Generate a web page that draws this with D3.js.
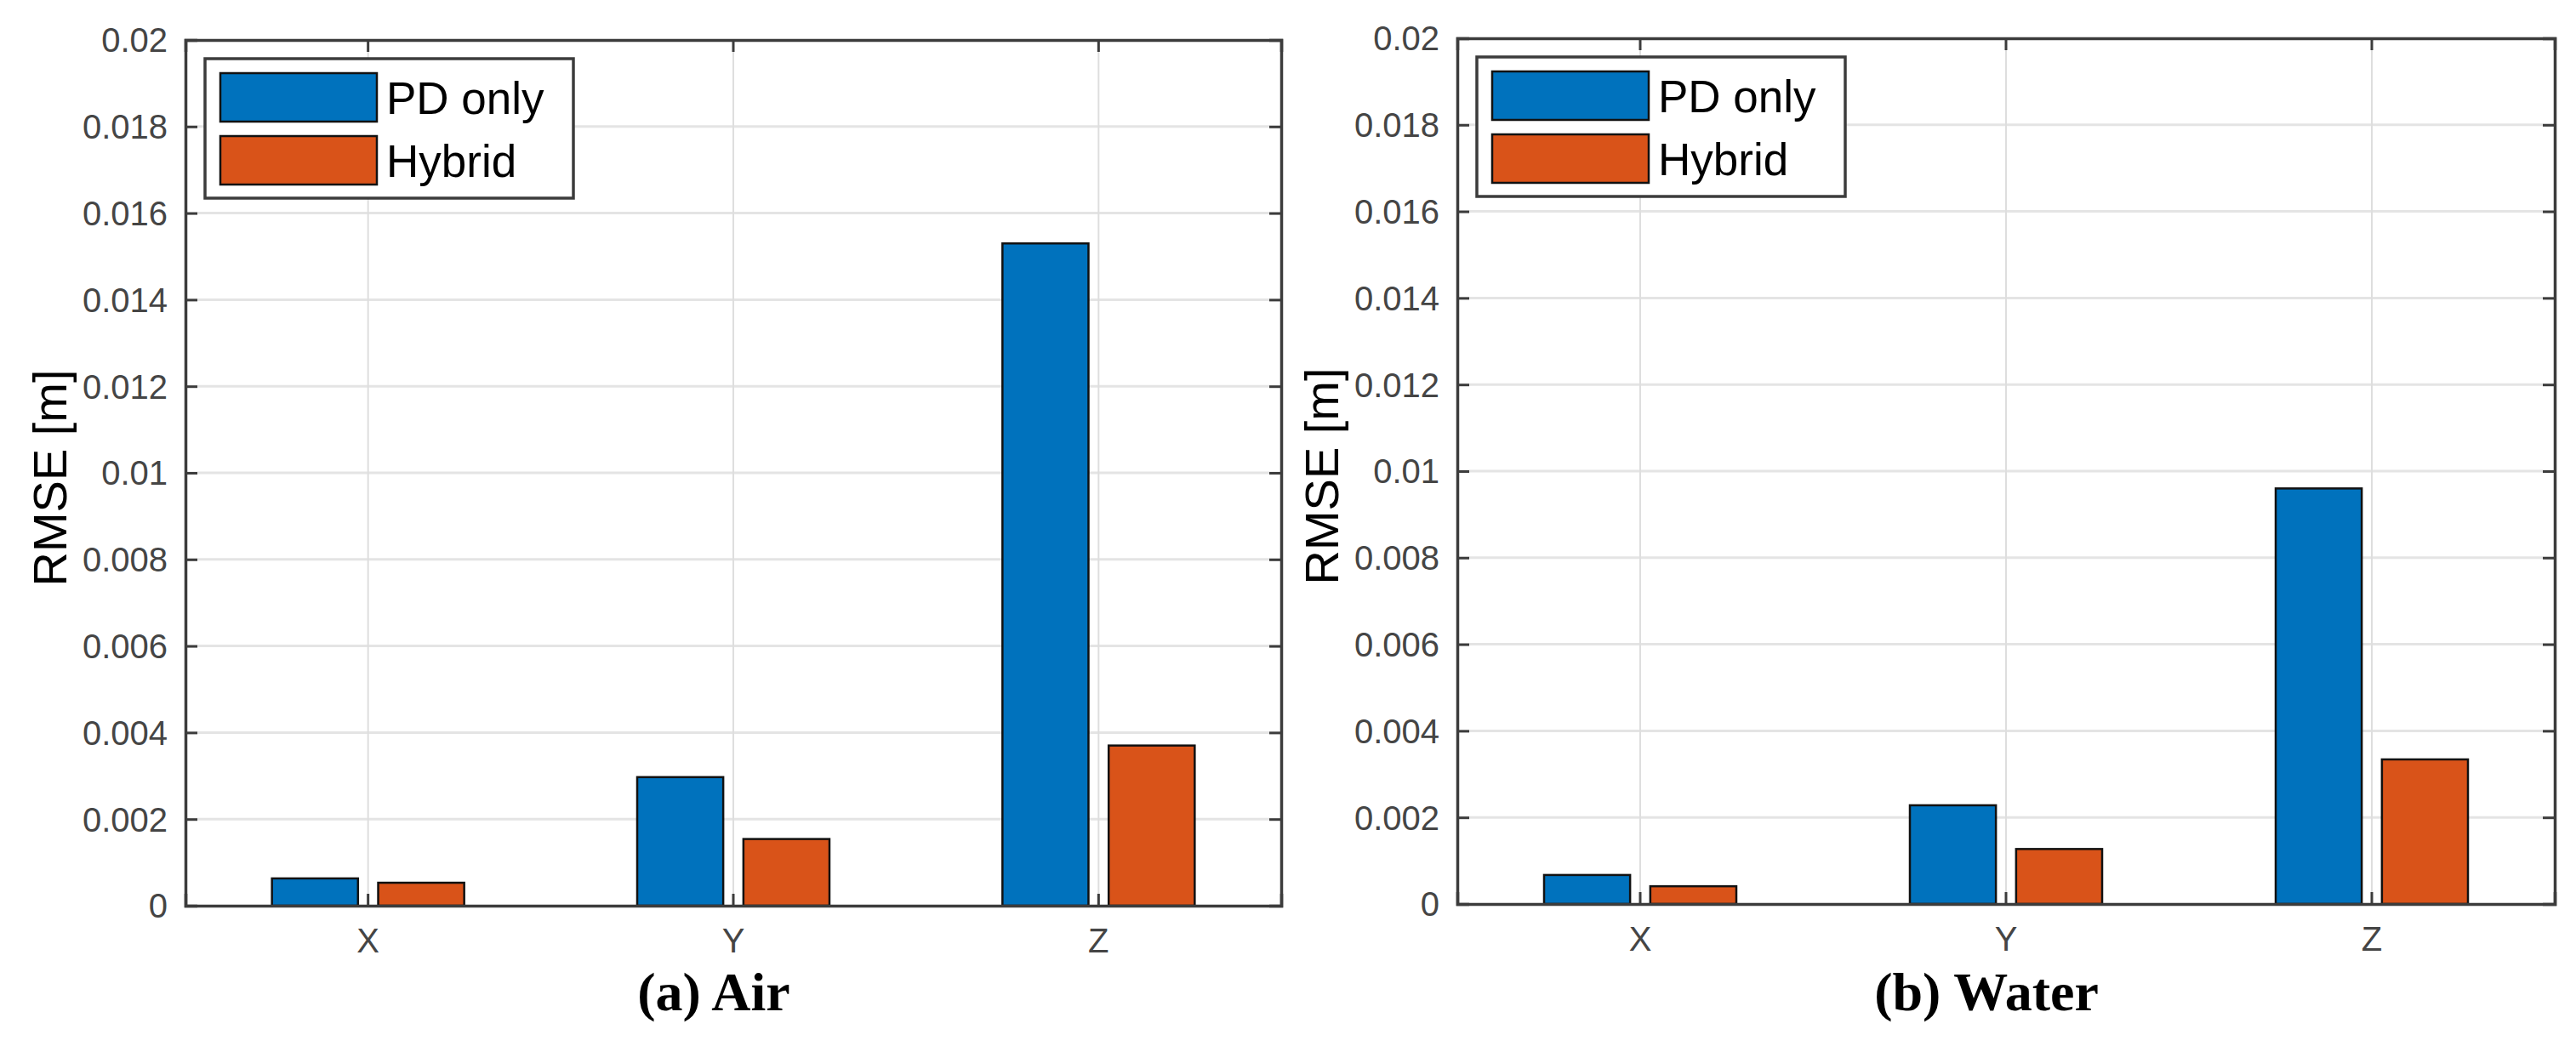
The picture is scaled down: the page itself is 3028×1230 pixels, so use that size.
<!DOCTYPE html>
<html>
<head>
<meta charset="utf-8">
<script src="https://cdn.jsdelivr.net/npm/d3@7"></script>
<style>
  html, body { margin: 0; padding: 0; background: #ffffff; }
  svg { display: block; }
</style>
</head>
<body>
<div id="chart"></div>
<script>
// ---------------- data ----------------
const categories = ["X", "Y", "Z"];
const seriesNames = ["PD only", "Hybrid"];
const seriesColors = ["#0072BD", "#D95319"];

const airPD = [0.00063, 0.00297, 0.0153];
const airHybrid = [0.00053, 0.00154, 0.0037];
const waterPD = [0.00067, 0.00228, 0.0096];
const waterHybrid = [0.00041, 0.00127, 0.00334];

const yTickValues = [0, 0.002, 0.004, 0.006, 0.008, 0.01, 0.012, 0.014, 0.016, 0.018, 0.02];
const yTickLabels = ["0", "0.002", "0.004", "0.006", "0.008", "0.01", "0.012", "0.014", "0.016", "0.018", "0.02"];
const yLabel = "RMSE [m]";
const panelTitles = ["(a) Air", "(b) Water"];

// ---------------- layout ----------------
const W = 3028, H = 1230;
const panels = [
  { left: 218, right: 1506, top: 47, bottom: 1065, title: panelTitles[0], values: [airPD, airHybrid] },
  { left: 1713, right: 3003, top: 45, bottom: 1063, title: panelTitles[1], values: [waterPD, waterHybrid] }
];

const svg = d3.select("#chart").append("svg")
  .attr("width", W).attr("height", H)
  .attr("viewBox", `0 0 ${W} ${H}`);
svg.append("rect").attr("width", W).attr("height", H).attr("fill", "#ffffff");

const axisColor = "#3c3c3c";
const tickColor = "#454545";
const sansFont = "'Liberation Sans', Arial, sans-serif";
const serifFont = "'Liberation Serif', 'Times New Roman', serif";

panels.forEach(p => {
  const g = svg.append("g");
  const x = d3.scaleBand().domain(categories).range([p.left, p.right]).paddingInner(0).paddingOuter(0);
  const inner = d3.scaleBand().domain(seriesNames).range([-113, 113]).paddingInner(0.19);
  const y = d3.scaleLinear().domain([0, 0.02]).range([p.bottom, p.top]);
  const cx = c => x(c) + x.bandwidth() / 2;

  // horizontal grid
  g.append("g").selectAll("line").data(yTickValues.slice(1, -1)).join("line")
    .attr("x1", p.left).attr("x2", p.right)
    .attr("y1", d => y(d)).attr("y2", d => y(d))
    .attr("stroke", "#e4e4e4").attr("stroke-width", 3);
  // vertical grid
  g.append("g").selectAll("line").data(categories).join("line")
    .attr("x1", d => cx(d)).attr("x2", d => cx(d))
    .attr("y1", p.top).attr("y2", p.bottom)
    .attr("stroke", "#dedede").attr("stroke-width", 2);

  // bars
  seriesNames.forEach((s, si) => {
    g.append("g").selectAll("rect").data(categories).join("rect")
      .attr("x", c => cx(c) + inner(s))
      .attr("width", inner.bandwidth())
      .attr("y", (c, i) => y(p.values[si][i]))
      .attr("height", (c, i) => y(0) - y(p.values[si][i]))
      .attr("fill", seriesColors[si])
      .attr("stroke", "#111111")
      .attr("stroke-width", 2.5);
  });

  // axes via d3 axis generators (ticks inward)
  const yAxisL = d3.axisRight(y).tickValues(yTickValues).tickSize(14).tickFormat("");
  const yAxisR = d3.axisLeft(y).tickValues(yTickValues).tickSize(14).tickFormat("");
  const xAxisB = d3.axisTop(x).tickSize(14).tickFormat("");
  const xAxisT = d3.axisBottom(x).tickSize(14).tickFormat("");

  const styleAxis = sel => {
    sel.selectAll("path.domain").attr("stroke", axisColor).attr("stroke-width", 3.5);
    sel.selectAll(".tick line").attr("stroke", axisColor).attr("stroke-width", 3);
  };
  g.append("g").attr("transform", `translate(${p.left},0)`).call(yAxisL).call(styleAxis);
  g.append("g").attr("transform", `translate(${p.right},0)`).call(yAxisR).call(styleAxis);
  g.append("g").attr("transform", `translate(0,${p.bottom})`).call(xAxisB).call(styleAxis);
  g.append("g").attr("transform", `translate(0,${p.top})`).call(xAxisT).call(styleAxis);
  g.selectAll("path.domain").attr("fill", "none");

  // y tick labels
  g.append("g").selectAll("text").data(yTickValues).join("text")
    .attr("x", p.left - 21)
    .attr("y", d => y(d))
    .attr("dy", "0.36em")
    .attr("text-anchor", "end")
    .attr("font-family", sansFont)
    .attr("font-size", 40)
    .attr("fill", tickColor)
    .text((d, i) => yTickLabels[i]);

  // x tick labels
  g.append("g").selectAll("text").data(categories).join("text")
    .attr("x", d => cx(d))
    .attr("y", p.bottom + 55)
    .attr("text-anchor", "middle")
    .attr("font-family", sansFont)
    .attr("font-size", 40)
    .attr("fill", tickColor)
    .text(d => d);

  // y axis label
  g.append("text")
    .attr("transform", `translate(${p.left - 140},${(p.top + p.bottom) / 2 + 6}) rotate(-90)`)
    .attr("text-anchor", "middle")
    .attr("font-family", sansFont)
    .attr("font-size", 56)
    .attr("fill", "#000000")
    .text(yLabel);

  // panel title
  g.append("text")
    .attr("x", (p.left + p.right) / 2 - 23)
    .attr("y", 1188)
    .attr("text-anchor", "middle")
    .attr("font-family", serifFont)
    .attr("font-weight", "bold")
    .attr("font-size", 64)
    .attr("fill", "#000000")
    .text(p.title);

  // legend
  const lg = g.append("g").attr("transform", `translate(${p.left + 23},${p.top + 22})`);
  lg.append("rect").attr("x", 0).attr("y", 0).attr("width", 433).attr("height", 164)
    .attr("fill", "#ffffff").attr("stroke", axisColor).attr("stroke-width", 3.5);
  seriesNames.forEach((s, si) => {
    const yy = 17 + si * 74;
    lg.append("rect").attr("x", 18).attr("y", yy).attr("width", 184).attr("height", 57)
      .attr("fill", seriesColors[si]).attr("stroke", "#111111").attr("stroke-width", 2.5);
    lg.append("text").attr("x", 213).attr("y", yy + 28.5).attr("dy", "0.36em")
      .attr("font-family", sansFont).attr("font-size", 53).attr("fill", "#000000")
      .text(s);
  });
});
</script>
</body>
</html>
